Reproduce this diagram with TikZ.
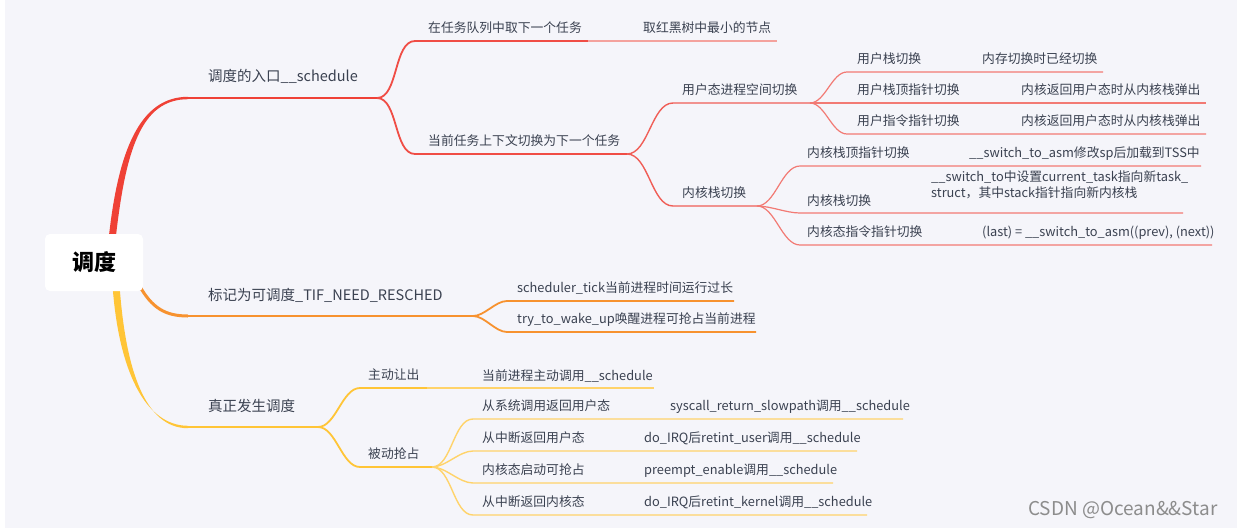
\documentclass[tikz,border=0pt]{standalone}
\usepackage{fontspec}
\setmainfont{Noto Sans CJK SC}
\usepackage{tikz}

\definecolor{bg}{HTML}{F5F5FA}
\definecolor{ink}{HTML}{3A4150}
\definecolor{redA}{HTML}{EF4136}
\definecolor{redB}{HTML}{F04D45}
\definecolor{redC}{HTML}{F05E57}
\definecolor{redD}{HTML}{F27A74}
\definecolor{redE}{HTML}{F4A29D}
\definecolor{orangeA}{HTML}{F7922F}
\definecolor{yellowA}{HTML}{FFC537}
\definecolor{yellowB}{HTML}{FFD36A}

\tikzset{
  topic/.style={anchor=west, inner sep=0pt, text=ink,
    font=\fontsize{12.8}{16}\selectfont, text height=0.8em, text depth=0.2em},
  maintopic/.style={topic, font=\fontsize{14.5}{18}\selectfont},
  rootbox/.style={fill=white, rounded corners=5pt, minimum width=98pt,
    minimum height=57pt, inner sep=0pt, font=\fontsize{22}{26}\selectfont\bfseries},
  branch/.style={out=0, in=180, looseness=0.8},
  lvlone/.style={line width=2.4pt},
  lvltwo/.style={line width=1.8pt},
  lvlthree/.style={line width=1.4pt},
  lvlfour/.style={line width=1.2pt},
}

\begin{document}
\begin{tikzpicture}[x=1pt,y=-1pt]
\fill[bg] (0,0) rectangle (1237,528);
\fill[white] (0,0) rectangle (5,528);
\useasboundingbox (0,0) rectangle (1237,528);

% main branches leave the root box
\coordinate (rA) at (188,98);
\coordinate (rB) at (377,98);
\coordinate (oA) at (139,285);
\coordinate (oB) at (188,316);
\coordinate (oC) at (473,316);
\coordinate (yA) at (188,427);
\coordinate (yB) at (318,427);
\fill[redA] (108.5,240) .. controls (118,150) and (140,96.8) .. (188,96.8)
  -- (188,99.2) .. controls (141,99.2) and (125.5,150) .. (115.5,240) -- cycle;
\fill[yellowA] (112.5,285) .. controls (118.5,370) and (145,425.8) .. (188,425.8)
  -- (188,428.2) .. controls (145,428.2) and (125.5,370) .. (119.5,285) -- cycle;
\draw[lvlone,redA] (rA) -- (rB);
\draw[line width=3pt,orangeA] (oA) .. controls (152,308) and (165,316) .. (oB);
\draw[lvlone,orangeA] (oB) -- (oC);
\draw[lvlone,yellowA] (yA) -- (yB);

\node[rootbox] (root) at (94,262.5) {调度};

\node[maintopic] (entry) at (208,78) {调度的入口\_\_schedule};
\node[maintopic] (mark) at (208,297) {标记为可调度\_TIF\_NEED\_RESCHED};
\node[maintopic] (real) at (208,408) {真正发生调度};

% red: entry of schedule
\coordinate (pickS) at (415,41);
\coordinate (pickE) at (588,41);
\coordinate (rbE) at (777,41);
\coordinate (ctxS) at (415,154);
\coordinate (ctxE) at (627,154);
\draw[lvltwo,redB] (rB) to[branch] (pickS) -- (pickE);
\draw[lvlfour,redE] (pickE) -- (rbE);
\draw[lvltwo,redB] (rB) to[branch] (ctxS) -- (ctxE);
\node[topic] (pick) at (428,29) {在任务队列中取下一个任务};
\node[topic] (rbtree) at (643,29) {取红黑树中最小的节点};
\node[topic] (ctx) at (428,142) {当前任务上下文切换为下一个任务};

% user space switch
\coordinate (usrS) at (673,103);
\coordinate (usrE) at (810,103);
\draw[lvlthree,redC] (ctxE) to[branch] (usrS) -- (usrE);
\node[topic] (usr) at (682,91) {用户态进程空间切换};
\foreach \yy/\xe in {72/1103, 103/1206, 134/1206}
  \draw[lvlfour,redD] (usrE) to[branch] (847,\yy) -- (\xe,\yy);
\node[topic] (ustk) at (857,60) {用户栈切换};
\node[topic] (ustkN) at (982,60) {内存切换时已经切换};
\node[topic] (usp) at (857,91) {用户栈顶指针切换};
\node[topic] (uspN) at (1021,91) {内核返回用户态时从内核栈弹出};
\node[topic] (uip) at (857,122) {用户指令指针切换};
\node[topic] (uipN) at (1021,122) {内核返回用户态时从内核栈弹出};

% kernel stack switch
\coordinate (kerS) at (673,206);
\coordinate (kerE) at (757,206);
\draw[lvlthree,redC] (ctxE) to[branch] (kerS) -- (kerE);
\node[topic] (ker) at (682,194) {内核栈切换};
\foreach \yy/\xe in {166/1201, 213/1183, 245/1212}
  \draw[lvlfour,redD] (kerE) to[branch] (800,\yy) -- (\xe,\yy);
\node[topic] (ksp) at (807,154) {内核栈顶指针切换};
\node[topic] (kspN) at (969,154) {\_\_switch\_to\_asm修改sp后加载到TSS中};
\node[topic] (kstk) at (807,202) {内核栈切换};
\node[topic, align=left] (kstkN) at (931,194)
  {\_\_switch\_to中设置current\_task指向新task\_\\struct，其中stack指针指向新内核栈};
\node[topic] (kip) at (807,233) {内核态指令指针切换};
\node[topic] (kipN) at (982,233) {(last) = \_\_switch\_to\_asm((prev), (next))};

% orange: need resched
\draw[lvltwo,orangeA] (oC) to[branch] (507,301) -- (734,301);
\draw[lvltwo,orangeA] (oC) to[branch] (507,332) -- (756,332);
\node[topic] (tick) at (517,289) {scheduler\_tick当前进程时间运行过长};
\node[topic] (wake) at (517,320) {try\_to\_wake\_up唤醒进程可抢占当前进程};

% yellow: real schedule
\coordinate (volS) at (360,388);
\coordinate (volE) at (427,388);
\coordinate (preS) at (360,467);
\coordinate (preE) at (432,467);
\draw[lvltwo,yellowA] (yB) to[branch] (volS) -- (volE);
\draw[lvlthree,yellowB] (volE) -- (654,388);
\draw[lvltwo,yellowA] (yB) to[branch] (preS) -- (preE);
\node[topic] (vol) at (368,376) {主动让出};
\node[topic] (pre) at (368,455) {被动抢占};
\node[topic] (volN) at (482,377) {当前进程主动调用\_\_schedule};
\foreach \yy/\xe in {419/903, 451/857, 483/833, 515/867}
  \draw[lvlthree,yellowB] (preE) to[branch] (473,\yy) -- (\xe,\yy);
\node[topic] (sys) at (482,407) {从系统调用返回用户态};
\node[topic] (sysN) at (670,407) {syscall\_return\_slowpath调用\_\_schedule};
\node[topic] (iru) at (482,439) {从中断返回用户态};
\node[topic] (iruN) at (644,439) {do\_IRQ后retint\_user调用\_\_schedule};
\node[topic] (kpe) at (482,471) {内核态启动可抢占};
\node[topic] (kpeN) at (644,471) {preempt\_enable调用\_\_schedule};
\node[topic] (irk) at (482,503) {从中断返回内核态};
\node[topic] (irkN) at (644,503) {do\_IRQ后retint\_kernel调用\_\_schedule};

\node[anchor=west, inner sep=0pt, text=black!45, font=\fontsize{19}{22}\selectfont]
  (water) at (1028,510) {CSDN @Ocean\&\&Star};
\end{tikzpicture}
\end{document}
